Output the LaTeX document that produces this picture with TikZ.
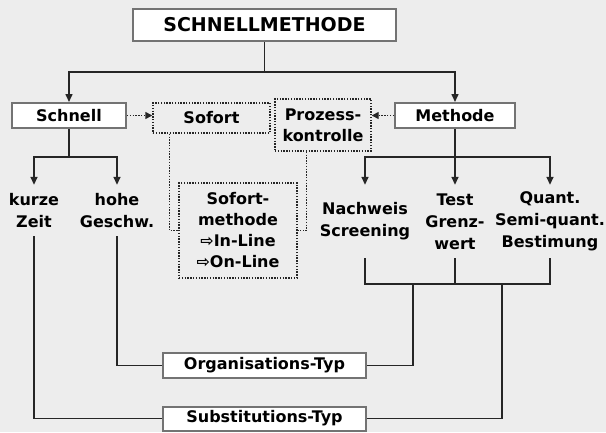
\documentclass[tikz,border=0pt]{standalone}
\usepackage{fontspec}
\setmainfont{DejaVu Sans}
\usetikzlibrary{arrows.meta}

\begin{document}
\begin{tikzpicture}[x=1pt, y=-1pt,
		box/.style={draw=black!55, line width=2pt, fill=white, inner sep=0pt, font=\bfseries\fontsize{16}{21}\selectfont},
		dotbox/.style={draw=black!85, dash pattern=on 1.4pt off 1.4pt, line width=1.4pt, inner sep=0pt, align=center, font=\bfseries\fontsize{16}{21}\selectfont},
		txt/.style={inner sep=0pt, align=center, font=\bfseries\fontsize{16}{22}\selectfont},
		line/.style={draw=black!85, line width=1.5pt},
		arr/.style={line, -{Triangle[length=8pt, width=7pt]}},
		dotline/.style={draw=black!85, dash pattern=on 1.4pt off 1.4pt, line width=1.4pt},
		dotarr/.style={dotline, -{Triangle[length=7pt, width=7pt]}}]
			%%%%% START %%%%%
			
			\fill[black!7] (0, 0) rectangle (606, 432);
			
			\node[box, minimum width=263pt, minimum height=32pt, font=\bfseries\fontsize{19}{23}\selectfont] (title) at (264.5, 25) {SCHNELLMETHODE};
			
			\node[box, minimum width=114pt, minimum height=25pt] (schnell) at (69, 115.5) {Schnell};
			\node[dotbox, minimum width=117pt, minimum height=30pt] (sofort) at (211.5, 118) {Sofort};
			\node[dotbox, minimum width=96pt, minimum height=52pt] (prozess) at (323, 125) {Prozess-\\kontrolle};
			\node[box, minimum width=120pt, minimum height=25pt] (methode) at (455, 115.5) {Methode};
			
			\node[dotbox, minimum width=118pt, minimum height=95pt] (sofortm) at (238, 230.5) {Sofort-\\methode\\⇨In-Line\\⇨On-Line};
			
			\node[txt, minimum height=51pt] (kurze) at (34, 210.5) {kurze\\Zeit};
			\node[txt, minimum height=51pt] (hohe) at (117, 210.5) {hohe\\Geschw.};
			
			\node[txt, minimum height=73pt] (nachweis) at (365, 221.5) {Nachweis\\Screening};
			\node[txt, minimum height=73pt] (test) at (455, 221.5) {Test\\Grenz-\\wert};
			\node[txt, minimum height=73pt] (quant) at (550, 221.5) {Quant.\\Semi-quant.\\Bestimung};
			
			\node[box, minimum width=203pt, minimum height=25pt] (orga) at (264.5, 365.5) {Organisations-Typ};
			\node[box, minimum width=203pt, minimum height=24pt] (subst) at (264.5, 418.5) {Substitutions-Typ};
			
			\coordinate (tj) at (264.5, 72);
			\draw[line] (title) -- (tj);
			\draw[arr] (tj) -| (schnell);
			\draw[arr] (tj) -| (methode);
			
			\coordinate (sj) at (69, 157);
			\draw[line] (schnell) -- (sj);
			\draw[arr] (sj) -| (kurze);
			\draw[arr] (sj) -| (hohe);
			
			\coordinate (mj) at (455, 157);
			\draw[line] (methode) -- (mj);
			\draw[arr] (mj) -| (nachweis);
			\draw[arr] (mj) -- (test);
			\draw[arr] (mj) -| (quant);
			
			\draw[dotarr] (schnell) -- (sofort.west |- schnell);
			\draw[dotarr] (methode) -- (prozess.east |- methode);
			\draw[dotline] ([xshift=17pt]sofort.south west) |- (sofortm);
			\draw[dotline] ([xshift=32pt]prozess.south west) |- (sofortm);
			
			\draw[line] (kurze) |- (subst);
			\draw[line] (hohe) |- (orga);
			
			\coordinate (rb) at (455, 284);
			\draw[line] (nachweis) |- (rb) -| (quant);
			\draw[line] (test) -- (rb);
			\coordinate (rj1) at (413, 284);
			\coordinate (rj2) at (502, 284);
			\draw[line] (rj1) |- (orga);
			\draw[line] (rj2) |- (subst);
			
			%%%%% END %%%%%
		\end{tikzpicture}
\end{document}
